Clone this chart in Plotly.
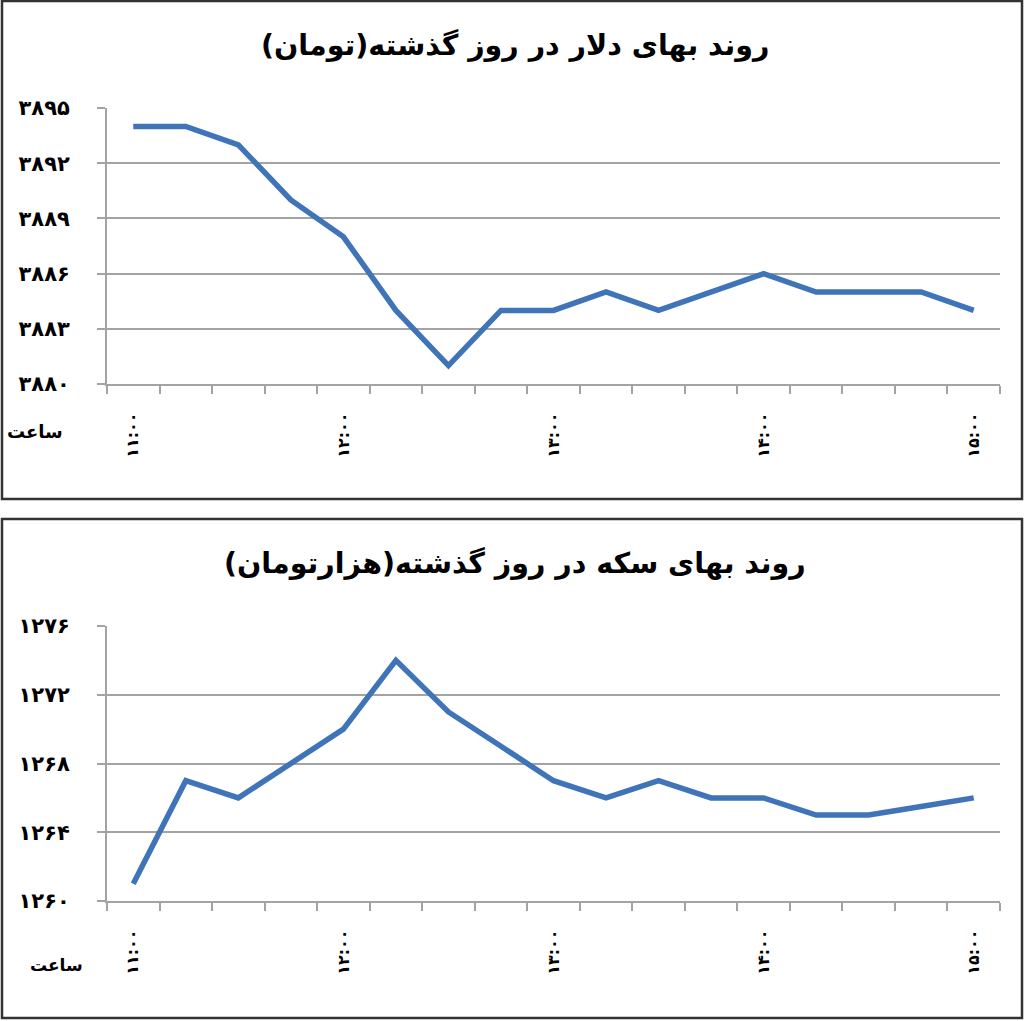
import plotly.graph_objects as go
from plotly.subplots import make_subplots

# داده‌ها (هر ۱۵ دقیقه از ساعت ۱۱ تا ۱۵)
hour_labels = ["۱۱:۰۰", "۱۲:۰۰", "۱۳:۰۰", "۱۴:۰۰", "۱۵:۰۰"]
hour_index = [0, 4, 8, 12, 16]
dollar_price = [3894, 3894, 3893, 3890, 3888, 3884, 3881, 3884, 3884,
                3885, 3884, 3885, 3886, 3885, 3885, 3885, 3884]
coin_price = [1261, 1267, 1266, 1268, 1270, 1274, 1271, 1269, 1267,
              1266, 1267, 1266, 1266, 1265, 1265, 1265.5, 1266]
dollar_ticks = [3880, 3883, 3886, 3889, 3892, 3895]
coin_ticks = [1260, 1264, 1268, 1272, 1276]

title_dollar = "روند بهای دلار در روز گذشته(تومان)"
title_coin = "روند بهای سکه در روز گذشته(هزارتومان)"
hour_word = "ساعت"

FA_DIGITS = str.maketrans("0123456789", "۰۱۲۳۴۵۶۷۸۹")


def to_fa(n):
    return str(n).translate(FA_DIGITS)


W, H = 1024, 1021
FONT = "DejaVu Sans"
GRID = "#a3a3a3"
BLUE = "#4074b8"


def py(px_y):
    return 1 - px_y / H


fig = make_subplots(rows=2, cols=1)

fig.add_trace(go.Scatter(x=list(range(len(dollar_price))), y=dollar_price,
                         mode="lines", line=dict(color=BLUE, width=5.5)),
              row=1, col=1)
fig.add_trace(go.Scatter(x=list(range(len(coin_price))), y=coin_price,
                         mode="lines", line=dict(color=BLUE, width=5.5)),
              row=2, col=1)

x_dom = [107 / W, 1000 / W]
n = len(dollar_price)

xaxis_style = dict(
    domain=x_dom,
    range=[-0.5, n - 0.5],
    tickvals=hour_index,
    ticktext=["<b>" + t + "</b>" for t in hour_labels],
    tickangle=-90,
    ticks="",
    ticklabelstandoff=20,
    tickfont=dict(family=FONT, size=16, color="black"),
    showgrid=False,
    zeroline=False,
    showline=True,
    linecolor=GRID,
    linewidth=2,
    automargin=False,
    minor=dict(tick0=-0.5, dtick=1, ticks="outside", ticklen=8,
               tickcolor=GRID, tickwidth=2, showgrid=False),
)

yaxis_style = dict(
    ticks="outside",
    ticklen=8,
    tickcolor=GRID,
    tickwidth=2,
    ticklabelstandoff=23,
    tickfont=dict(family=FONT, size=21, color="black"),
    showgrid=True,
    gridcolor=GRID,
    gridwidth=2,
    zeroline=False,
    showline=True,
    linecolor=GRID,
    linewidth=2,
    automargin=False,
)

fig.update_xaxes(**xaxis_style)
fig.update_yaxes(**yaxis_style)

fig.update_yaxes(domain=[py(384), py(108)], range=[3880, 3895],
                 tickvals=dollar_ticks,
                 ticktext=["<b>" + to_fa(v) + "</b>" for v in dollar_ticks],
                 row=1, col=1)
fig.update_yaxes(domain=[py(901), py(626)], range=[1260, 1276],
                 tickvals=coin_ticks,
                 ticktext=["<b>" + to_fa(v) + "</b>" for v in coin_ticks],
                 row=2, col=1)

# قاب هر نمودار
for top, bottom in [(1, 499), (519, 1018)]:
    fig.add_shape(type="rect", xref="paper", yref="paper",
                  x0=2 / W, x1=1022 / W, y0=py(bottom), y1=py(top),
                  line=dict(color="#333333", width=2.5))

# عنوان‌ها
for text, y in [(title_dollar, 45), (title_coin, 563)]:
    fig.add_annotation(text="<b>" + text + "</b>", xref="paper", yref="paper",
                       x=515 / W, y=py(y), xanchor="center", yanchor="middle",
                       showarrow=False,
                       font=dict(family=FONT, size=28.5, color="black"))

# برچسب ساعت
for x, y, size in [(35, 432, 18), (56, 965, 17)]:
    fig.add_annotation(text="<b>" + hour_word + "</b>", xref="paper", yref="paper",
                       x=x / W, y=py(y), xanchor="center", yanchor="middle",
                       showarrow=False,
                       font=dict(family=FONT, size=size, color="black"))

fig.update_layout(
    width=W,
    height=H,
    margin=dict(l=0, r=0, t=0, b=0),
    paper_bgcolor="white",
    plot_bgcolor="white",
    showlegend=False,
    font=dict(family=FONT),
)

fig.write_html("out.html", config={"displayModeBar": False},
               post_script="document.body.style.margin='0';"
                           "document.body.style.overflow='hidden';")
